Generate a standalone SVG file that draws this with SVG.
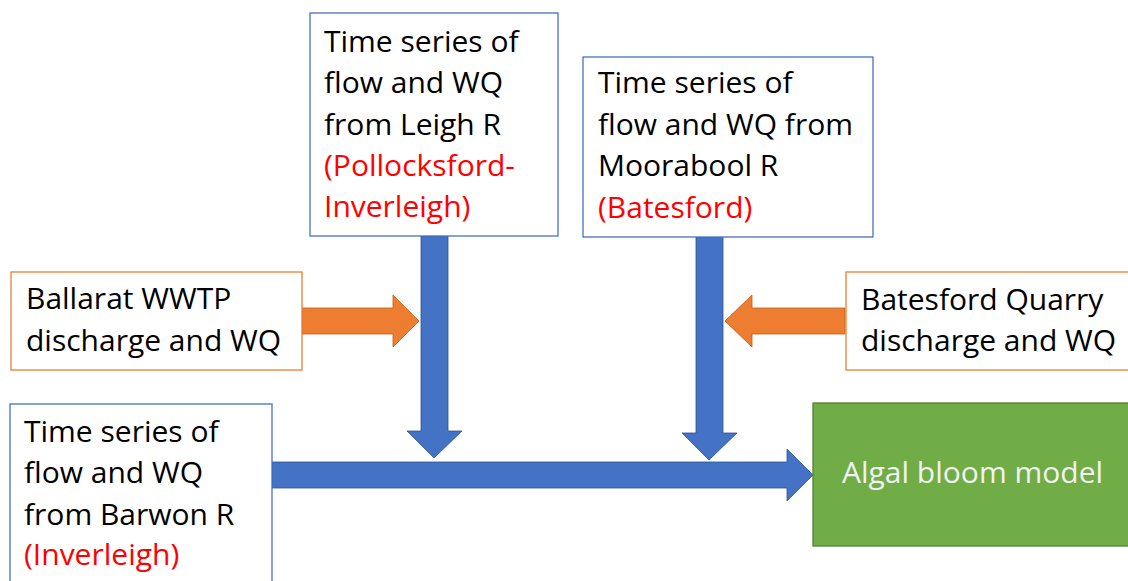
<svg xmlns="http://www.w3.org/2000/svg" width="1128" height="581" viewBox="0 0 1128 581">
<style>
  .t { font-family: "Open Sans", "Liberation Sans", sans-serif; font-size: 30px; fill: #000; }
  .red { fill: #FF0000; }
  .bbox { fill: #fff; stroke: #4472C4; stroke-width: 1.3; }
  .obox { fill: #fff; stroke: #ED7D31; stroke-width: 1.3; }
  .barrow { fill: #4472C4; stroke: #2F528F; stroke-width: 0.8; }
  .oarrow { fill: #ED7D31; stroke: #C55A11; stroke-width: 0.8; }
</style>
<rect width="1128" height="581" fill="#fff"/>
<g id="connectors">
  <polygon class="oarrow" points="302,308 393,308 393,295 419,321 393,347 393,334 302,334"/>
  <polygon class="oarrow" points="845,308 752,308 752,295 725,321 752,347 752,334 845,334"/>
  <polygon class="barrow" points="421,236 448,236 448,431 462,431 434,458 407,431 421,431"/>
  <polygon class="barrow" points="696,237 723,237 723,433 737,433 709,460 682,433 696,433"/>
  <polygon class="barrow" points="272,462 787,462 787,449 813,475 787,501 787,488 272,488"/>
</g>
<g id="leigh">
  <rect class="bbox" x="310" y="13" width="248" height="223"/>
  <text class="t" x="324" y="52">Time series of</text>
  <text class="t" x="324" y="93">flow and WQ</text>
  <text class="t" x="324" y="135">from Leigh R</text>
  <text class="t red" x="324" y="176">(Pollocksford-</text>
  <text class="t red" x="324" y="217">Inverleigh)</text>
</g>
<g id="moorabool">
  <rect class="bbox" x="583" y="57" width="290" height="180"/>
  <text class="t" x="598" y="93">Time series of</text>
  <text class="t" x="598" y="135">flow and WQ from</text>
  <text class="t" x="598" y="176">Moorabool R</text>
  <text class="t red" x="598" y="218">(Batesford)</text>
</g>
<g id="ballarat">
  <rect class="obox" x="11" y="272" width="291" height="98"/>
  <text class="t" x="26" y="309">Ballarat WWTP</text>
  <text class="t" x="26" y="351">discharge and WQ</text>
</g>
<g id="quarry">
  <rect class="obox" x="846" y="272" width="290" height="98"/>
  <text class="t" x="861" y="310">Batesford Quarry</text>
  <text class="t" x="861" y="351">discharge and WQ</text>
</g>
<g id="barwon">
  <rect class="bbox" x="10" y="404" width="262" height="190"/>
  <text class="t" x="24" y="442">Time series of</text>
  <text class="t" x="24" y="483">flow and WQ</text>
  <text class="t" x="24" y="525">from Barwon R</text>
  <text class="t red" x="24" y="565">(Inverleigh)</text>
</g>
<g id="algal">
  <rect x="813" y="403" width="325" height="143" fill="#70AD47" stroke="#548235" stroke-width="1.3"/>
  <text class="t" x="842" y="483" style="fill:#F2F2F2">Algal bloom model</text>
</g>
</svg>
